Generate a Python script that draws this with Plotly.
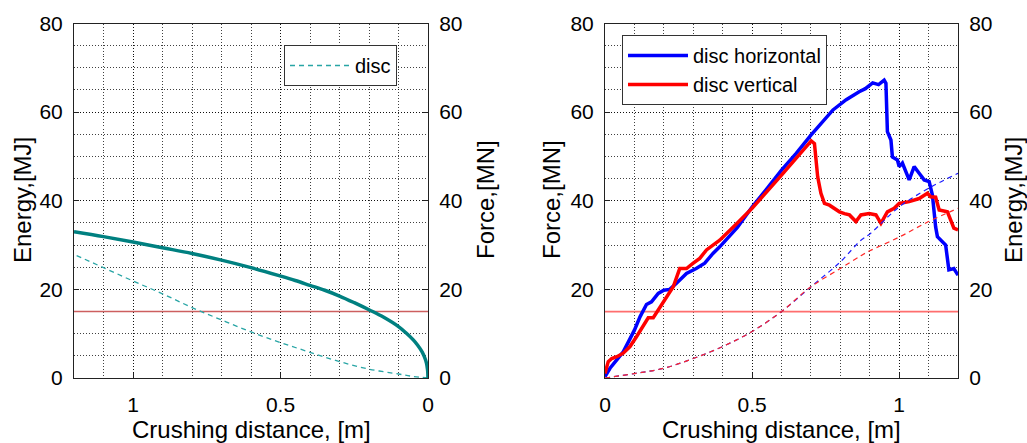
import plotly.graph_objects as go

# ---------------- data ----------------
# Left panel (x reversed): force (solid) and energy (dashed) for "disc"
left_force_x = [0, 0.001, 0.002, 0.005, 0.01, 0.02, 0.035, 0.05, 0.075, 0.1, 0.15, 0.2, 0.25, 0.3, 0.35,
                0.4, 0.45, 0.5, 0.6, 0.7, 0.8, 0.9, 1.0, 1.1, 1.2]
left_force_y = [0, 1.5, 2.1, 3.3, 4.4, 5.9, 7.4, 8.6, 10.2, 11.6, 13.7, 15.4, 17.0, 18.5, 19.8,
                20.9, 22.0, 23.0, 24.9, 26.6, 28.1, 29.4, 30.7, 31.9, 33.0]
left_energy_x = [0, 0.05, 0.1, 0.2, 0.3, 0.4, 0.5, 0.6, 0.7, 0.8, 0.9, 1.0, 1.1, 1.2]
left_energy_y = [0, 0.35, 0.9, 2.0, 3.7, 5.8, 8.0, 10.4, 13.1, 15.9, 19.0, 21.9, 24.9, 27.9]

# Right panel: force curves
horiz_x = [0, 0.017, 0.04, 0.062, 0.08, 0.1, 0.119, 0.141, 0.158, 0.181, 0.2, 0.22, 0.243, 0.277, 0.31,
           0.339, 0.367, 0.39, 0.45, 0.5, 0.55, 0.6, 0.65, 0.7, 0.775, 0.82, 0.864, 0.885, 0.91, 0.93,
           0.949, 0.955, 0.96, 0.972, 0.977, 0.994, 1.0, 1.011, 1.034, 1.051, 1.068, 1.085, 1.102, 1.113,
           1.124, 1.13, 1.158, 1.169, 1.186, 1.2]
horiz_y = [0.3, 2.2, 4.1, 5.9, 8.2, 10.8, 13.8, 16.6, 17.2, 19.1, 19.8, 20.0, 21.4, 23.6, 24.7,
           25.9, 28.1, 29.6, 34.0, 38.6, 42.7, 46.9, 50.7, 54.8, 60.5, 62.8, 64.6, 65.3, 66.6, 66.2,
           67.2, 66.5, 55.6, 53.7, 49.9, 49.2, 47.7, 48.5, 44.7, 47.7, 46.2, 44.7, 44.3, 41.3,
           34.1, 31.9, 30.0, 24.4, 24.7, 23.2]
vert_x = [0, 0.011, 0.023, 0.04, 0.062, 0.085, 0.107, 0.13, 0.147, 0.164, 0.181, 0.209, 0.232, 0.254,
          0.277, 0.3, 0.322, 0.345, 0.39, 0.45, 0.5, 0.6, 0.661, 0.701, 0.712, 0.723, 0.734, 0.746,
          0.763, 0.78, 0.797, 0.814, 0.831, 0.853, 0.87, 0.898, 0.921, 0.938, 0.96, 0.983, 1.0,
          1.034, 1.068, 1.096, 1.107, 1.124, 1.136, 1.164, 1.186, 1.2]
vert_y = [1.0, 3.7, 4.4, 4.8, 5.6, 7.1, 9.3, 12.0, 13.6, 13.6, 15.3, 18.3, 20.6, 24.7,
          24.7, 25.9, 27.0, 28.9, 31.1, 35.0, 38.3, 45.8, 50.4, 53.5, 52.9, 45.4, 41.7, 39.4,
          39.0, 38.3, 37.5, 37.1, 36.8, 35.3, 36.8, 37.1, 36.8, 34.9, 37.5, 38.3, 39.4,
          39.8, 40.5, 41.7, 40.9, 40.8, 37.9, 37.5, 33.8, 33.4]

# Right panel: energy curves
energy_x = [0, 0.1, 0.2, 0.3, 0.4, 0.5, 0.6, 0.7, 0.8, 0.87, 0.9, 1.0, 1.1, 1.2]
energy_h = [0, 1.0, 2.2, 4.4, 7.1, 10.5, 15.0, 20.6, 26.2, 31.1, 32.5, 38.6, 42.8, 46.2]
energy_v = [0, 1.0, 2.2, 4.4, 7.1, 10.5, 15.0, 20.6, 24.7, 27.6, 28.7, 31.8, 35.3, 38.3]

# Horizontal reference level
ref_x = [0, 1.2]
ref_y = [15, 15]

x_ticks = [0, 0.5, 1]
x_ticktext = ["0", "0.5", "1"]
y_ticks = [0, 20, 40, 60, 80]
y_ticks_right_panel = [20, 40, 60, 80]

# ---------------- figure ----------------
FONT = "Liberation Sans, Arial, sans-serif"
W, H = 1027, 443
teal = "rgb(0,128,128)"
teal_d = "rgb(40,165,165)"

fig = go.Figure()

# left panel
fig.add_trace(go.Scatter(x=ref_x, y=ref_y, mode="lines", line=dict(color="rgb(205,95,95)", width=1.6),
                         xaxis="x", yaxis="y", showlegend=False, hoverinfo="skip"))
fig.add_trace(go.Scatter(x=left_energy_x, y=left_energy_y, mode="lines", name="disc",
                         line=dict(color=teal_d, width=1.3, dash="5px,4px"),
                         xaxis="x", yaxis="y", legend="legend", line_shape="spline"))
fig.add_trace(go.Scatter(x=left_force_x, y=left_force_y, mode="lines", line=dict(color=teal, width=3.5),
                         xaxis="x", yaxis="y2", showlegend=False, line_shape="spline"))

# right panel
fig.add_trace(go.Scatter(x=ref_x, y=ref_y, mode="lines", line=dict(color="rgb(255,110,110)", width=1.8),
                         xaxis="x2", yaxis="y3", showlegend=False, hoverinfo="skip"))
fig.add_trace(go.Scatter(x=energy_x, y=energy_h, mode="lines", line=dict(color="rgb(30,30,255)", width=1.2, dash="5px,4px"),
                         xaxis="x2", yaxis="y4", showlegend=False, line_shape="spline"))
fig.add_trace(go.Scatter(x=energy_x, y=energy_v, mode="lines", line=dict(color="rgb(255,40,40)", width=1.2, dash="5px,4px"),
                         xaxis="x2", yaxis="y4", showlegend=False, line_shape="spline"))
fig.add_trace(go.Scatter(x=horiz_x, y=horiz_y, mode="lines", name="disc horizontal",
                         line=dict(color="rgb(0,0,255)", width=3.5), xaxis="x2", yaxis="y3", legend="legend2"))
fig.add_trace(go.Scatter(x=vert_x, y=vert_y, mode="lines", name="disc vertical",
                         line=dict(color="rgb(255,0,0)", width=3.5), xaxis="x2", yaxis="y3", legend="legend2"))

dom_y = [(H - 378) / H, (H - 23.5) / H]
dom_x1 = [74 / W, 428 / W]
dom_x2 = [605 / W, 958 / W]

GRIDC = "rgba(0,0,0,0.75)"
grid = dict(showgrid=True, gridcolor=GRIDC, gridwidth=1, griddash="1px,2px")
tickfont = dict(family=FONT, size=21, color="black")

def xax(domain, rng, anchor):
    return dict(domain=domain, range=rng, anchor=anchor, tickvals=x_ticks, ticktext=x_ticktext,
                tickfont=tickfont, ticks="inside", ticklen=5, tickcolor="#222", automargin=False,
                showline=True, mirror=True, linecolor="#222", linewidth=1, zeroline=False,
                ticklabelstandoff=8,
                minor=dict(dtick=0.1, tick0=0, showgrid=True, gridcolor=GRIDC, griddash="1px,2px",
                           ticks=""),
                **grid)

def yax(domain, anchor, tickvals, side="left", overlaying=None):
    d = dict(domain=domain, range=[0, 80], anchor=anchor, tickvals=tickvals, side=side,
             tickfont=tickfont, ticks="inside", ticklen=5, tickcolor="#222", automargin=False,
             showline=True, linecolor="#222", linewidth=1, zeroline=False, ticklabelstandoff=6)
    if overlaying:
        d["overlaying"] = overlaying
        d["showgrid"] = False
    else:
        d["mirror"] = True
        d.update(grid)
        d["minor"] = dict(dtick=5, tick0=0, showgrid=True, gridcolor=GRIDC, griddash="1px,2px", ticks="")
    return d

fig.update_layout(
    width=W, height=H, margin=dict(l=0, r=0, t=0, b=0, autoexpand=False),
    paper_bgcolor="white", plot_bgcolor="white",
    font=dict(family=FONT, size=20, color="black"),
    xaxis=xax(dom_x1, [1.2, 0], "y"),
    yaxis=yax(dom_y, "x", y_ticks),
    yaxis2=yax(dom_y, "x", y_ticks, side="right", overlaying="y"),
    xaxis2=xax(dom_x2, [0, 1.2], "y3"),
    yaxis3=yax(dom_y, "x2", y_ticks_right_panel),
    yaxis4=yax(dom_y, "x2", y_ticks, side="right", overlaying="y3"),
    legend=dict(x=284 / W, y=1 - 45 / H, xanchor="left", yanchor="top", bgcolor="white",
                bordercolor="#333", borderwidth=1, font=dict(family=FONT, size=20), itemwidth=60,
                tracegroupgap=0),
    legend2=dict(x=622 / W, y=1 - 35 / H, xanchor="left", yanchor="top", bgcolor="white",
                 bordercolor="#333", borderwidth=1, font=dict(family=FONT, size=20), itemwidth=60,
                 tracegroupgap=0),
    showlegend=True,
)

title_font = dict(family=FONT, size=24, color="black")
ann = [
    dict(text="Crushing distance, [m]", x=(dom_x1[0] + dom_x1[1]) / 2, y=1 - 429 / H),
    dict(text="Crushing distance, [m]", x=(dom_x2[0] + dom_x2[1]) / 2, y=1 - 429 / H),
    dict(text="Energy,[MJ]", x=23 / W, y=1 - 200 / H, textangle=-90),
    dict(text="Force,[MN]", x=486 / W, y=1 - 200 / H, textangle=-90),
    dict(text="Force,[MN]", x=552 / W, y=1 - 200 / H, textangle=-90),
    dict(text="Energy,[MJ]", x=1014 / W, y=1 - 200 / H, textangle=-90),
]
for a in ann:
    fig.add_annotation(xref="paper", yref="paper", xanchor="center", yanchor="middle",
                       showarrow=False, font=title_font, **a)

fig.write_html("out.html", config={"displayModeBar": False},
               post_script="document.body.style.margin='0';document.body.style.overflow='hidden';")
